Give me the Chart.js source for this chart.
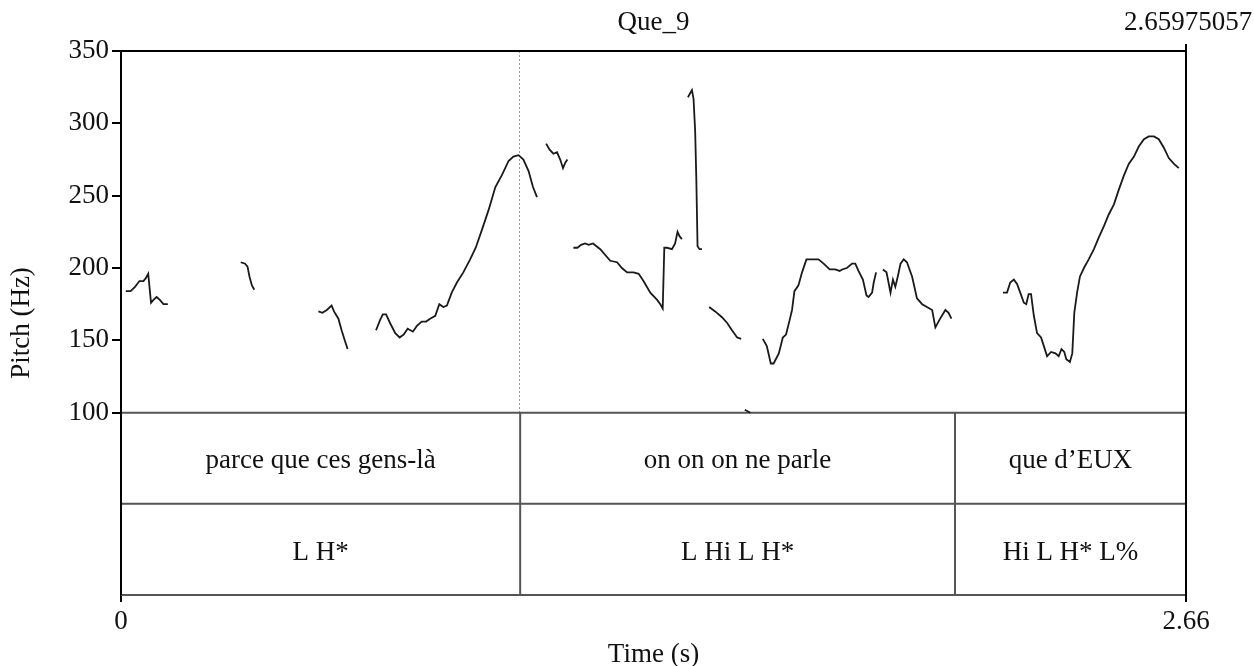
<!DOCTYPE html>
<html>
<head>
<meta charset="utf-8">
<title>Que_9</title>
<script src="https://cdn.jsdelivr.net/npm/chart.js@4.4.0/dist/chart.umd.min.js"></script>
<style>
  html, body { margin: 0; padding: 0; background: #fff; }
</style>
</head>
<body>
<canvas id="pitchChart" width="1254" height="666"></canvas>
<script>
// pitch track, one array per voiced stretch (time in s, F0 in Hz)
const pitchTimes = [
  [0.012, 0.024, 0.035, 0.046, 0.056, 0.062, 0.068, 0.075, 0.081, 0.089, 0.097, 0.106, 0.117],
  [0.299, 0.310, 0.316, 0.321, 0.327, 0.333],
  [0.493, 0.503, 0.514, 0.526, 0.532, 0.543, 0.551, 0.560, 0.566],
  [0.637, 0.647, 0.654, 0.662, 0.672, 0.685, 0.696, 0.706, 0.716, 0.729, 0.739, 0.751, 0.762, 0.772, 0.785, 0.795, 0.805,
   0.814, 0.826, 0.839, 0.855, 0.872, 0.886, 0.901, 0.918, 0.935, 0.951, 0.968, 0.980, 0.993, 1.005, 1.018, 1.029, 1.039],
  [1.062, 1.070, 1.080, 1.089, 1.097, 1.104, 1.110, 1.115],
  [1.130, 1.140, 1.149, 1.159, 1.168, 1.179, 1.197, 1.222, 1.239, 1.251, 1.264, 1.280, 1.293, 1.305, 1.322, 1.339, 1.347,
   1.353, 1.357, 1.364, 1.376, 1.384, 1.390, 1.395, 1.401],
  [1.416, 1.426, 1.430, 1.434, 1.437, 1.440, 1.445, 1.451],
  [1.469, 1.484, 1.501, 1.514, 1.526, 1.539, 1.549],
  [1.558, 1.565, 1.572],
  [1.603, 1.613, 1.623, 1.630, 1.643, 1.653, 1.661, 1.670, 1.676, 1.682, 1.692, 1.701, 1.712, 1.722, 1.732, 1.742, 1.755,
   1.770, 1.784, 1.795, 1.801, 1.813, 1.826, 1.834, 1.842, 1.853, 1.862, 1.867, 1.876, 1.880, 1.886],
  [1.903, 1.912, 1.922, 1.928, 1.934, 1.940, 1.947, 1.955, 1.963, 1.976, 1.988, 2.001, 2.013, 2.026, 2.034, 2.046, 2.059,
   2.067, 2.074],
  [2.203, 2.213, 2.221, 2.230, 2.238, 2.246, 2.255, 2.261, 2.267, 2.273, 2.280, 2.288, 2.298, 2.305, 2.313, 2.323, 2.334,
   2.342, 2.349, 2.356, 2.361, 2.370, 2.376, 2.381, 2.388, 2.395, 2.405, 2.417, 2.430, 2.442, 2.455, 2.467, 2.480, 2.492,
   2.505, 2.517, 2.530, 2.542, 2.555, 2.567, 2.580, 2.592, 2.605, 2.617, 2.630, 2.642]
];
const pitchValues = [
  [184, 184, 187, 191, 191, 193, 196, 176, 178, 180, 178, 175, 175],
  [204, 203, 201, 194, 188, 185],
  [170, 169, 171, 174, 170, 165, 157, 149, 144],
  [157, 164, 168, 168, 162, 155, 152, 154, 158, 156, 160, 163, 163, 165, 167, 175, 173,
   174, 183, 190, 197, 206, 214, 226, 240, 256, 264, 274, 277, 278, 275, 267, 256, 249],
  [286, 282, 279, 280, 275, 269, 273, 275],
  [214, 214, 216, 217, 216, 217, 213, 205, 204, 200, 197, 197, 196, 191, 183, 178, 175,
   172, 214, 214, 213, 217, 225, 222, 220],
  [318, 323, 317, 295, 261, 215, 213, 213],
  [173, 170, 166, 162, 157, 152, 151],
  [102, 101, 100],
  [151, 146, 134, 134, 141, 152, 154, 164, 171, 184, 188, 197, 206, 206, 206, 206, 203,
   199, 199, 198, 199, 200, 203, 203, 198, 192, 181, 180, 183, 190, 197],
  [199, 197, 183, 192, 187, 194, 203, 206, 204, 194, 179, 175, 173, 171, 159, 165, 171,
   169, 165],
  [183, 183, 190, 192, 189, 183, 176, 175, 182, 182, 167, 155, 152, 146, 139, 142, 141,
   139, 144, 142, 137, 135, 141, 169, 183, 194, 200, 206, 213, 221, 229, 237, 244, 254,
   264, 272, 277, 284, 289, 291, 291, 289, 283, 276, 272, 269]
];

// axis ticks
const pitchTicks = [100, 150, 200, 250, 300, 350];
const timeTicks = [0, 2.66];

// TextGrid tiers
const wordBounds = [0, 0.997, 2.083, 2.66];
const wordLabels = ["parce que ces gens-là", "on on on ne parle", "que d\u2019EUX"];
const toneLabels = ["L H*", "L Hi L H*", "Hi L H* L%"];
const cursorTime = 0.997;
const soundName = "Que_9";
const totalDuration = "2.65975057";

// tiers live below the pitch floor on the same y scale
const pitchFloor = 100;
const pitchCeiling = 350;
const tierEdges = [100, 37, -26];

const FONT = "'Liberation Serif', 'Times New Roman', serif";
const FONT_SIZE = 27;

// build one dataset with null gaps between voiced stretches
const points = [];
pitchTimes.forEach((times, i) => {
  times.forEach((t, j) => points.push({ x: t, y: pitchValues[i][j] }));
  points.push({ x: times[times.length - 1] + 0.001, y: null });
});

const praatDrawing = {
  id: "praatDrawing",
  beforeDatasetsDraw(chart) {
    const { ctx, chartArea: a, scales: { x, y } } = chart;
    ctx.save();
    // cursor
    ctx.strokeStyle = "#9a9a9a";
    ctx.lineWidth = 1;
    ctx.setLineDash([2, 2]);
    const cx = Math.round(x.getPixelForValue(cursorTime)) - 0.5;
    ctx.beginPath();
    ctx.moveTo(cx, a.top);
    ctx.lineTo(cx, y.getPixelForValue(pitchFloor));
    ctx.stroke();
    ctx.setLineDash([]);

    // tier lines
    ctx.strokeStyle = "#555";
    ctx.lineWidth = 2;
    tierEdges.forEach(v => {
      const py = y.getPixelForValue(v);
      ctx.beginPath();
      ctx.moveTo(a.left, py);
      ctx.lineTo(a.right, py);
      ctx.stroke();
    });
    wordBounds.slice(1, -1).forEach(t => {
      const px = x.getPixelForValue(t);
      ctx.beginPath();
      ctx.moveTo(px, y.getPixelForValue(tierEdges[0]));
      ctx.lineTo(px, y.getPixelForValue(tierEdges[2]));
      ctx.stroke();
    });
    ctx.restore();
  },
  afterDraw(chart) {
    const { ctx, chartArea: a, scales: { x, y } } = chart;
    ctx.save();
    // frame
    ctx.strokeStyle = "#000";
    ctx.lineWidth = 2;
    ctx.beginPath();
    ctx.moveTo(a.left, a.bottom);
    ctx.lineTo(a.left, a.top);
    ctx.lineTo(a.right, a.top);
    ctx.moveTo(a.right, a.top - 7);
    ctx.lineTo(a.right, a.bottom + 7);
    ctx.stroke();

    // tier labels
    ctx.fillStyle = "#111";
    ctx.font = FONT_SIZE + "px " + FONT;
    ctx.textAlign = "center";
    ctx.textBaseline = "middle";
    const rows = [wordLabels, toneLabels];
    rows.forEach((labels, r) => {
      const py = (y.getPixelForValue(tierEdges[r]) + y.getPixelForValue(tierEdges[r + 1])) / 2 + 3;
      labels.forEach((txt, k) => {
        const px = (x.getPixelForValue(wordBounds[k]) + x.getPixelForValue(wordBounds[k + 1])) / 2;
        ctx.fillText(txt, px, py);
      });
    });

    // header
    ctx.fillText(soundName, (a.left + a.right) / 2, 23);
    ctx.fillText(totalDuration, a.right + 2, 23);
    ctx.restore();
  }
};

Chart.defaults.color = "#111";
Chart.defaults.font.family = FONT;
Chart.defaults.font.size = FONT_SIZE;

new Chart(document.getElementById("pitchChart"), {
  type: "line",
  data: {
    datasets: [{
      data: points,
      borderColor: "#1a1a1a",
      borderWidth: 1.8,
      pointRadius: 0,
      tension: 0,
      spanGaps: false
    }]
  },
  options: {
    responsive: false,
    animation: false,
    devicePixelRatio: 1,
    layout: { padding: { top: 51, right: 68, left: 0, bottom: 0 } },
    plugins: { legend: { display: false }, tooltip: { enabled: false } },
    scales: {
      x: {
        type: "linear",
        min: 0,
        max: 2.66,
        afterBuildTicks: s => { s.ticks = timeTicks.map(v => ({ value: v })); },
        afterFit: s => { s.height = 71; },
        ticks: {
          padding: 4,
          maxRotation: 0,
          callback: v => (v === 0 ? "0" : v.toFixed(2))
        },
        grid: { drawOnChartArea: false, tickLength: 7, color: "#000", lineWidth: 2 },
        border: { display: false },
        title: {
          display: true,
          text: "Time (s)",
          font: { size: FONT_SIZE, lineHeight: 1 },
          padding: { top: 0, bottom: -2 }
        }
      },
      y: {
        min: tierEdges[2],
        max: pitchCeiling,
        afterBuildTicks: s => { s.ticks = pitchTicks.map(v => ({ value: v })); },
        afterFit: s => { s.width = 121; },
        ticks: { padding: 3 },
        grid: { drawOnChartArea: false, tickLength: 9, color: "#000", lineWidth: 2 },
        border: { display: false },
        title: {
          display: true,
          text: "Pitch (Hz)",
          font: { size: FONT_SIZE, lineHeight: 1.2 },
          padding: { top: 6, bottom: 0 }
        }
      }
    }
  },
  plugins: [praatDrawing]
});
</script>
</body>
</html>
